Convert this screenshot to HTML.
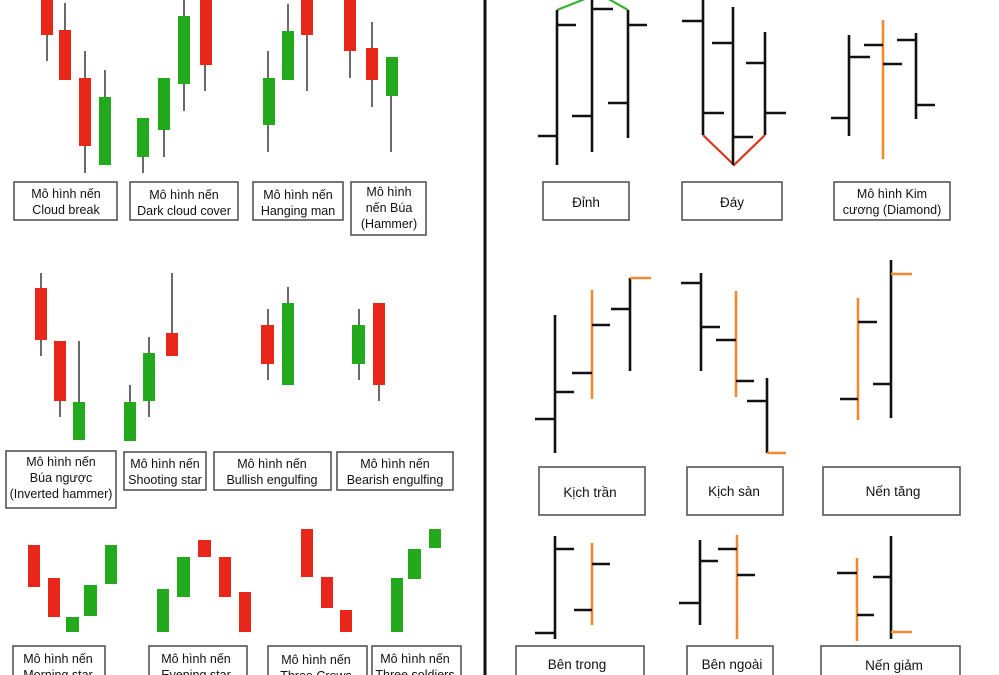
<!DOCTYPE html>
<html><head><meta charset="utf-8"><style>
html,body{margin:0;padding:0;background:#fff;}
svg{display:block;}
text{font-family:"Liberation Sans",sans-serif;font-size:12.5px;fill:#111;text-anchor:middle;}
.bx{fill:#fff;stroke:#555;stroke-width:1.6;}
.w{stroke:#444;stroke-width:1.6;}
.r{fill:#e8261a;}
.g{fill:#22a91c;}
.k{stroke:#111;stroke-width:2.6;fill:none;}
.o{stroke:#f08a30;stroke-width:2.6;fill:none;}
</style></head><body>
<svg width="999" height="675" viewBox="0 0 999 675" xmlns="http://www.w3.org/2000/svg">
<rect width="999" height="675" fill="#fff"/>
<line x1="485" y1="0" x2="485" y2="675" stroke="#111" stroke-width="3"/>

<!-- Top-left group 1 -->
<line class="w" x1="47" y1="0" x2="47" y2="61"/><rect class="r" x="41" y="0" width="12" height="35"/>
<line class="w" x1="65" y1="3" x2="65" y2="80"/><rect class="r" x="59" y="30" width="12" height="50"/>
<line class="w" x1="85" y1="51" x2="85" y2="173"/><rect class="r" x="79" y="78" width="12" height="68"/>
<line class="w" x1="105" y1="70" x2="105" y2="165"/><rect class="g" x="99" y="97" width="12" height="68"/>
<!-- group 2 -->
<line class="w" x1="143" y1="118" x2="143" y2="173"/><rect class="g" x="137" y="118" width="12" height="39"/>
<line class="w" x1="164" y1="78" x2="164" y2="157"/><rect class="g" x="158" y="78" width="12" height="52"/>
<line class="w" x1="184" y1="0" x2="184" y2="111"/><rect class="g" x="178" y="16" width="12" height="68"/>
<line class="w" x1="205" y1="0" x2="205" y2="91"/><rect class="r" x="200" y="0" width="12" height="65"/>
<!-- group 3 -->
<line class="w" x1="268" y1="51" x2="268" y2="152"/><rect class="g" x="263" y="78" width="12" height="47"/>
<line class="w" x1="288" y1="4" x2="288" y2="80"/><rect class="g" x="282" y="31" width="12" height="49"/>
<line class="w" x1="307" y1="0" x2="307" y2="91"/><rect class="r" x="301" y="0" width="12" height="35"/>
<!-- group 4 -->
<line class="w" x1="350" y1="0" x2="350" y2="78"/><rect class="r" x="344" y="0" width="12" height="51"/>
<line class="w" x1="372" y1="22" x2="372" y2="107"/><rect class="r" x="366" y="48" width="12" height="32"/>
<line class="w" x1="391" y1="57" x2="391" y2="152"/><rect class="g" x="386" y="57" width="12" height="39"/>

<rect class="bx" x="14" y="182" width="103" height="38"/><text x="66" y="198">Mô hình nến</text><text x="66" y="214">Cloud break</text>
<rect class="bx" x="130" y="182" width="108" height="38"/><text x="184" y="199">Mô hình nến</text><text x="184" y="215">Dark cloud cover</text>
<rect class="bx" x="253" y="182" width="90" height="38"/><text x="298" y="199">Mô hình nến</text><text x="298" y="215">Hanging man</text>
<rect class="bx" x="351" y="182" width="75" height="53"/><text x="389" y="196">Mô hình</text><text x="389" y="212">nến Búa</text><text x="389" y="228">(Hammer)</text>

<!-- Middle-left -->
<line class="w" x1="41" y1="273" x2="41" y2="356"/><rect class="r" x="35" y="288" width="12" height="52"/>
<line class="w" x1="60" y1="341" x2="60" y2="417"/><rect class="r" x="54" y="341" width="12" height="60"/>
<line class="w" x1="79" y1="341" x2="79" y2="440"/><rect class="g" x="73" y="402" width="12" height="38"/>
<line class="w" x1="130" y1="385" x2="130" y2="441"/><rect class="g" x="124" y="402" width="12" height="39"/>
<line class="w" x1="149" y1="337" x2="149" y2="417"/><rect class="g" x="143" y="353" width="12" height="48"/>
<line class="w" x1="172" y1="273" x2="172" y2="356"/><rect class="r" x="166" y="333" width="12" height="23"/>
<line class="w" x1="268" y1="309" x2="268" y2="380"/><rect class="r" x="261" y="325" width="13" height="39"/>
<line class="w" x1="288" y1="287" x2="288" y2="385"/><rect class="g" x="282" y="303" width="12" height="82"/>
<line class="w" x1="359" y1="309" x2="359" y2="380"/><rect class="g" x="352" y="325" width="13" height="39"/>
<line class="w" x1="379" y1="385" x2="379" y2="401"/><rect class="r" x="373" y="303" width="12" height="82"/>

<rect class="bx" x="6" y="451" width="110" height="57"/><text x="61" y="466">Mô hình nến</text><text x="61" y="482">Búa ngược</text><text x="61" y="498">(Inverted hammer)</text>
<rect class="bx" x="124" y="452" width="82" height="38"/><text x="165" y="468">Mô hình nến</text><text x="165" y="484">Shooting star</text>
<rect class="bx" x="214" y="452" width="117" height="38"/><text x="272" y="468">Mô hình nến</text><text x="272" y="484">Bullish engulfing</text>
<rect class="bx" x="337" y="452" width="116" height="38"/><text x="395" y="468">Mô hình nến</text><text x="395" y="484">Bearish engulfing</text>

<!-- Bottom-left -->
<rect class="r" x="28" y="545" width="12" height="42"/>
<rect class="r" x="48" y="578" width="12" height="39"/>
<rect class="g" x="66" y="617" width="13" height="15"/>
<rect class="g" x="84" y="585" width="13" height="31"/>
<rect class="g" x="105" y="545" width="12" height="39"/>
<rect class="g" x="157" y="589" width="12" height="43"/>
<rect class="g" x="177" y="557" width="13" height="40"/>
<rect class="r" x="198" y="540" width="13" height="17"/>
<rect class="r" x="219" y="557" width="12" height="40"/>
<rect class="r" x="239" y="592" width="12" height="40"/>
<rect class="r" x="301" y="529" width="12" height="48"/>
<rect class="r" x="321" y="577" width="12" height="31"/>
<rect class="r" x="340" y="610" width="12" height="22"/>
<rect class="g" x="391" y="578" width="12" height="54"/>
<rect class="g" x="408" y="549" width="13" height="30"/>
<rect class="g" x="429" y="529" width="12" height="19"/>

<rect class="bx" x="13" y="646" width="92" height="40"/><text x="58" y="663">Mô hình nến</text><text x="58" y="679">Morning star</text>
<rect class="bx" x="149" y="646" width="98" height="40"/><text x="196" y="663">Mô hình nến</text><text x="196" y="679">Evening star</text>
<rect class="bx" x="268" y="646" width="99" height="40"/><text x="316" y="664">Mô hình nến</text><text x="316" y="680">Three Crows</text>
<rect class="bx" x="372" y="646" width="89" height="40"/><text x="415" y="663">Mô hình nến</text><text x="415" y="679">Three soldiers</text>

<!-- Right top: Đỉnh -->
<polyline points="557,10 590,-3 605,-3 628,10" fill="none" stroke="#3cb035" stroke-width="2.2"/>
<path class="k" d="M557 10V165M538 136H557M557 25H576"/>
<path class="k" d="M592 0V152M572 116H592M592 9H613"/>
<path class="k" d="M628 10V138M608 103H628M628 25H647"/>
<!-- Đáy -->
<polyline points="703,135 734,165 765,135" fill="none" stroke="#d9361f" stroke-width="2.2"/>
<path class="k" d="M703 0V135M682 21H703M703 113H724"/>
<path class="k" d="M733 7V165M712 43H733M733 137H753"/>
<path class="k" d="M765 32V135M746 63H765M765 113H786"/>
<!-- Diamond -->
<path class="k" d="M849 35V136M831 118H849M849 57H870"/>
<path class="o" d="M883 20V159"/><path class="k" d="M864 45H883M883 64H902"/>
<path class="k" d="M916 33V119M897 40H916M916 105H935"/>

<rect class="bx" x="543" y="182" width="86" height="38"/><text x="586" y="207" style="font-size:13.5px">Đỉnh</text>
<rect class="bx" x="682" y="182" width="100" height="38"/><text x="732" y="207" style="font-size:13.5px">Đáy</text>
<rect class="bx" x="834" y="182" width="116" height="38"/><text x="892" y="198">Mô hình Kim</text><text x="892" y="214">cương (Diamond)</text>

<!-- Kịch trần -->
<path class="k" d="M555 315V453M535 419H555M555 392H574"/>
<path class="o" d="M592 290V399"/><path class="k" d="M572 373H592M592 325H610"/>
<path class="k" d="M630 278V371M611 309H630"/><path class="o" d="M630 278H651"/>
<!-- Kịch sàn -->
<path class="k" d="M701 273V371M681 283H701M701 327H720"/>
<path class="o" d="M736 291V397"/><path class="k" d="M716 340H736M736 381H754"/>
<path class="k" d="M767 378V453M747 401H767"/><path class="o" d="M767 453H786"/>
<!-- Nến tăng -->
<path class="o" d="M858 298V420"/><path class="k" d="M840 399H858M858 322H877"/>
<path class="k" d="M891 260V418M873 384H891"/><path class="o" d="M891 274H912"/>

<rect class="bx" x="539" y="467" width="106" height="48"/><text x="590" y="497" style="font-size:13.5px">Kịch trần</text>
<rect class="bx" x="687" y="467" width="96" height="48"/><text x="734" y="496" style="font-size:13.5px">Kịch sàn</text>
<rect class="bx" x="823" y="467" width="137" height="48"/><text x="893" y="496" style="font-size:13.5px">Nến tăng</text>

<!-- Bên trong -->
<path class="k" d="M555 536V639M535 633H555M555 549H574"/>
<path class="o" d="M592 543V625"/><path class="k" d="M574 610H592M592 564H610"/>
<!-- Bên ngoài -->
<path class="k" d="M700 540V625M679 603H700M700 561H718"/>
<path class="o" d="M737 535V639"/><path class="k" d="M718 549H737M737 575H755"/>
<!-- Nến giảm -->
<path class="o" d="M857 558V641"/><path class="k" d="M837 573H857M857 615H874"/>
<path class="k" d="M891 536V639M873 577H891"/><path class="o" d="M891 632H912"/>

<rect class="bx" x="516" y="646" width="128" height="40"/><text x="577" y="669" style="font-size:13.5px">Bên trong</text>
<rect class="bx" x="687" y="646" width="86" height="40"/><text x="732" y="669" style="font-size:13.5px">Bên ngoài</text>
<rect class="bx" x="821" y="646" width="139" height="40"/><text x="894" y="670" style="font-size:13.5px">Nến giảm</text>
</svg>
</body></html>
